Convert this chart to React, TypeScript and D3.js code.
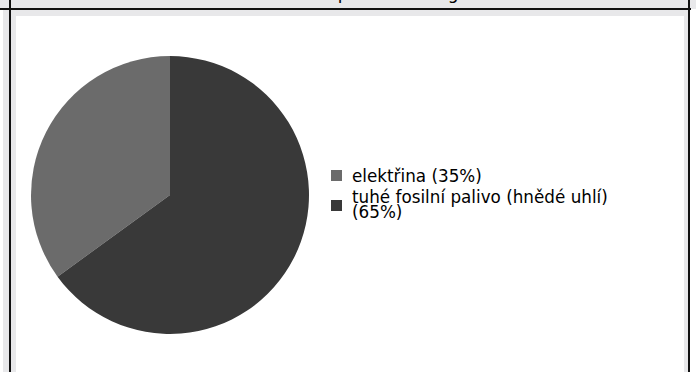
import React from "react";
import * as d3 from "d3";

const categories = ["elektřina (35%)", "tuhé fosilní palivo (hnědé uhlí) (65%)"];
const legendLines = [["elektřina (35%)"], ["tuhé fosilní palivo (hnědé uhlí)", "(65%)"]];
const values = [35, 65];
const colors = ["#6b6b6b", "#393939"];
const titleText = "Spotřeba energie";

const W = 696;
const H = 372;

export default function App() {
  const cx = 170;
  const cy = 195;
  const r = 139;
  const pie = d3
    .pie<number>()
    .sort(null)
    .startAngle(-0.35 * 2 * Math.PI)
    .endAngle(1.65 * 2 * Math.PI);
  const arcs = pie(values);
  const arcGen = d3.arc<d3.PieArcDatum<number>>().innerRadius(0).outerRadius(r);
  const legendY = d3.scaleOrdinal<string, number>().domain(categories).range([170, 200]);

  return (
    <svg
      width={W}
      height={H}
      style={{ position: "absolute", left: 0, top: 0, display: "block" }}
      fontFamily="DejaVu Sans"
    >
      <rect x={0} y={0} width={W} height={H} fill="#ffffff" />
      <rect x={0} y={0} width={W} height={9} fill="#e8e8ea" />
      <rect x={3} y={9} width={686} height={H - 9} fill="#e8e8ea" />
      <rect x={16} y={16} width={668} height={H - 16} fill="#ffffff" />
      <text x={327} y={-1.5} fontSize={17} fill="#000">{titleText}</text>
      <rect x={0} y={8} width={691} height={2} fill="#111" />
      <rect x={9} y={0} width={2} height={H} fill="#111" />
      <rect x={688} y={0} width={2} height={H} fill="#111" />
      <g transform={`translate(${cx},${cy})`}>
        {arcs.map((a, i) => (
          <path key={i} d={arcGen(a) || ""} fill={colors[i]} />
        ))}
      </g>
      {categories.map((c, i) => {
        const y = legendY(c);
        return (
          <g key={c}>
            <rect x={331} y={y} width={11} height={11} fill={colors[i]} />
            {legendLines[i].length === 1 ? (
              <text x={352} y={y + 12} fontSize={16.8} fill="#000">{legendLines[i][0]}</text>
            ) : (
              <text x={352} y={y + 2.5} fontSize={16.8} fill="#000">
                {legendLines[i].map((l, j) => (
                  <tspan key={j} x={352} dy={j === 0 ? 0 : 15.5}>{l}</tspan>
                ))}
              </text>
            )}
          </g>
        );
      })}
    </svg>
  );
}
